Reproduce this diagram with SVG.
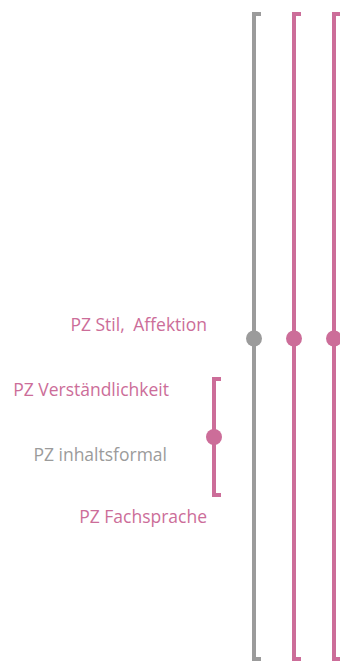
<svg xmlns="http://www.w3.org/2000/svg" width="340" height="662" viewBox="0 0 340 662">
<style>
.g{stroke:#9b9b9b;stroke-width:4;fill:none}
.p{stroke:#cc6d99;stroke-width:4;fill:none}
.dg{fill:#9b9b9b}
.dp{fill:#cc6d99}
text{font-family:"Open Sans","Noto Sans",sans-serif;font-size:17.5px;text-anchor:end}
.tp{fill:#cc6d99}
.tg{fill:#9b9b9b}
</style>
<g id="connectors">
<path id="bracket-gray" class="g" d="M261,14 H254 V659 H261"/>
<path id="bracket-pink1" class="p" d="M301,14 H294 V659 H301"/>
<path id="bracket-pink2" class="p" d="M341,14 H334 V659 H341"/>
<path id="bracket-small" class="p" d="M221,379 H214 V495 H221"/>
</g>
<g id="node-gray"><circle class="dg" cx="254" cy="338.5" r="8"/></g>
<g id="node-pink1"><circle class="dp" cx="294" cy="338.5" r="8"/></g>
<g id="node-pink2"><circle class="dp" cx="334" cy="338.5" r="8"/></g>
<g id="node-small"><circle class="dp" cx="214" cy="437" r="8"/></g>
<g id="label-stil"><text class="tp" x="207" y="330.5">PZ Stil, <tspan dx="4">Affektion</tspan></text></g>
<g id="label-verst"><text class="tp" x="169" y="395.5">PZ Verständlichkeit</text></g>
<g id="label-inhalt"><text class="tg" x="167" y="461">PZ inhaltsformal</text></g>
<g id="label-fach"><text class="tp" x="207" y="523">PZ Fachsprache</text></g>
</svg>
